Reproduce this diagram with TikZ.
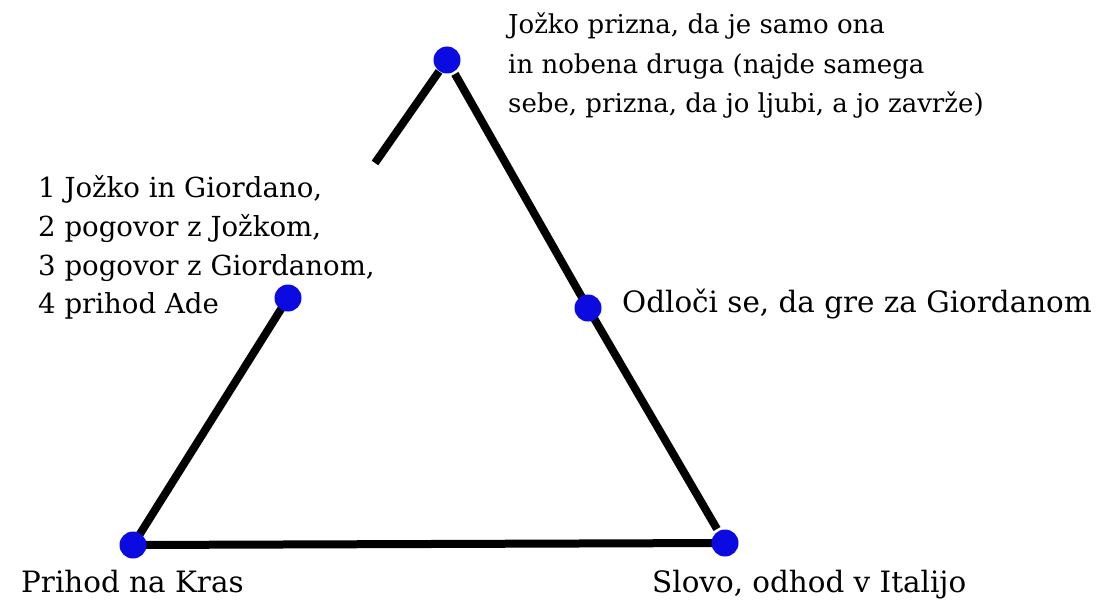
\documentclass[tikz,border=0pt]{standalone}
\usepackage{fontspec}
\setmainfont{DejaVu Serif}
\usetikzlibrary{calc}
\definecolor{dotblue}{RGB}{10,10,225}
\pgfdeclarelayer{paper}
\pgfdeclarelayer{lines}
\pgfsetlayers{paper,lines,main}
\begin{document}
\begin{tikzpicture}[x=1pt,y=-1pt,
  dot/.style={circle,fill=dotblue,inner sep=0pt,minimum size=27pt},
  edge/.style={line width=8pt,black},
  lbl/.style={inner sep=0pt,anchor=base west,font=\fontsize{26}{39}\selectfont},
  lblL/.style={lbl,font=\fontsize{27.6}{39}\selectfont},
  lblB/.style={lbl,font=\fontsize{29.4}{39}\selectfont}]
\begin{pgfonlayer}{paper}
\fill[white] (0,0) rectangle (1099,599);
\end{pgfonlayer}
\useasboundingbox (0,0) rectangle (1099,599);
\node[dot] (T) at (447,60) {};
\node[dot] (L) at (288,298) {};
\node[dot] (R) at (588,308) {};
\node[dot] (BL) at (133,545) {};
\node[dot] (BR) at (725,543) {};
\coordinate (G) at (375,163);
\coordinate (Rend) at ($(BR.center)+(-8,-14)$);
\begin{pgfonlayer}{lines}
\draw[edge] (BL.center) -- (L.center);
\draw[edge,shorten >=14pt] (G) -- (T.center);
\draw[edge,shorten <=16pt] (T.center) -- (R.center) -- (Rend);
\draw[edge] (BL.center) -- (BR.center);
\end{pgfonlayer}
% labels
\node[lbl] (tT1) at (508,34) {Jožko prizna, da je samo ona};
\node[lbl] (tT2) at (508,74) {in nobena druga (najde samega};
\node[lbl] (tT3) at (508,113) {sebe, prizna, da jo ljubi, a jo zavrže)};
\node[lblL] (tL1) at (38,197) {1 Jožko in Giordano,};
\node[lblL] (tL2) at (38,236) {2 pogovor z Jožkom,};
\node[lblL] (tL3) at (38,275) {3 pogovor z Giordanom,};
\node[lblL] (tL4) at (38,313) {4 prihod Ade};
\node[lblB] (tR) at (622,312) {Odloči se, da gre za Giordanom};
\node[lblB] (tBL) at (21,592) {Prihod na Kras};
\node[lblB] (tBR) at (652,592) {Slovo, odhod v Italijo};
\end{tikzpicture}
\end{document}
